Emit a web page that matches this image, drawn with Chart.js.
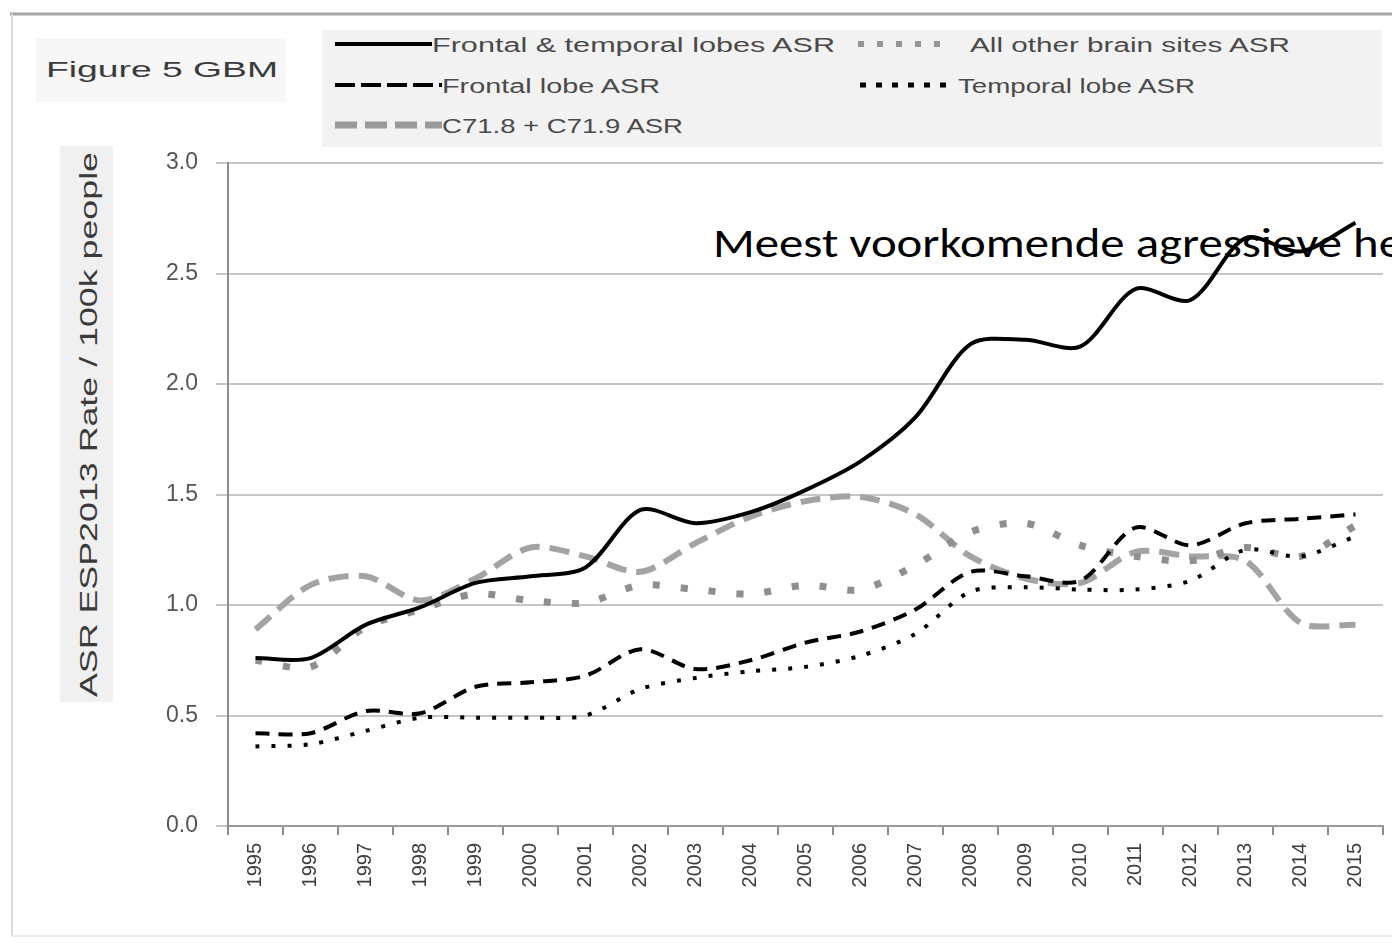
<!DOCTYPE html>
<html>
<head>
<meta charset="utf-8">
<script src="https://cdn.jsdelivr.net/npm/chart.js@4.4.1/dist/chart.umd.min.js"></script>
<style>
  html, body { margin: 0; padding: 0; background: #fff; }
  #wrap { position: relative; width: 1392px; height: 943px; overflow: hidden; }
  #chart { position: absolute; left: 0; top: 0; }
  #deco { position: absolute; left: 0; top: 0; pointer-events: none; }
</style>
</head>
<body>
<div id="wrap">
  <svg id="deco" width="1392" height="943" xmlns="http://www.w3.org/2000/svg">
    <!-- outer frame -->
    <line x1="10" y1="14" x2="1392" y2="14" stroke="#a6a6a6" stroke-width="3"/>
    <line x1="12" y1="14" x2="12" y2="936" stroke="#dcdcdc" stroke-width="2"/>
    <line x1="12" y1="936" x2="1392" y2="936" stroke="#ececec" stroke-width="2"/>
    <!-- title -->
    <rect x="36" y="38" width="250" height="64" fill="#f7f7f7"/>
    <text x="46" y="77" font-family="Liberation Sans, Arial" font-size="22" fill="#3a3a3a" textLength="232" lengthAdjust="spacingAndGlyphs">Figure 5  GBM</text>
    <!-- legend -->
    <rect x="322" y="30" width="1060" height="117" fill="#f2f2f2"/>
    <line x1="335" y1="44" x2="432" y2="44" stroke="#000" stroke-width="4"/>
    <text x="432" y="52" font-family="Liberation Sans, Arial" font-size="20" fill="#4a4a4a" textLength="403" lengthAdjust="spacingAndGlyphs">Frontal &amp; temporal lobes ASR</text>
    <line x1="858" y1="44" x2="950" y2="44" stroke="#959595" stroke-width="6" stroke-dasharray="6 13"/>
    <text x="970" y="52" font-family="Liberation Sans, Arial" font-size="20" fill="#4a4a4a" textLength="320" lengthAdjust="spacingAndGlyphs">All other brain sites ASR</text>
    <line x1="335" y1="85" x2="442" y2="85" stroke="#000" stroke-width="4" stroke-dasharray="20 6"/>
    <text x="442" y="93" font-family="Liberation Sans, Arial" font-size="20" fill="#4a4a4a" textLength="218" lengthAdjust="spacingAndGlyphs">Frontal lobe ASR</text>
    <line x1="860" y1="85" x2="956" y2="85" stroke="#000" stroke-width="5" stroke-dasharray="6 10"/>
    <text x="958" y="93" font-family="Liberation Sans, Arial" font-size="20" fill="#4a4a4a" textLength="237" lengthAdjust="spacingAndGlyphs">Temporal lobe ASR</text>
    <line x1="335" y1="125" x2="442" y2="125" stroke="#9a9a9a" stroke-width="7" stroke-dasharray="22 8"/>
    <text x="442" y="133" font-family="Liberation Sans, Arial" font-size="20" fill="#4a4a4a" textLength="241" lengthAdjust="spacingAndGlyphs">C71.8 + C71.9 ASR</text>
    <!-- y axis title -->
    <rect x="60" y="146" width="53" height="556" fill="#f0f0f0"/>
    <text transform="translate(97,697) rotate(-90)" font-family="Liberation Sans, Arial" font-size="23" fill="#3a3a3a" textLength="545" lengthAdjust="spacingAndGlyphs">ASR  ESP2013  Rate / 100k  people</text>
    <!-- overlay note -->
    <text x="713" y="257" font-family="Carlito, Open Sans, Liberation Sans" font-size="42" fill="#000" textLength="690" lengthAdjust="spacingAndGlyphs">Meest voorkomende agressieve he</text>
  </svg>
  <canvas id="chart" width="1392" height="943"></canvas>
</div>
<script>
// years on the x axis
var years = ["1995","1996","1997","1998","1999","2000","2001","2002","2003","2004","2005",
             "2006","2007","2008","2009","2010","2011","2012","2013","2014","2015"];

// age standardised rates
var frontalTemporal = [0.76, 0.76, 0.91, 0.99, 1.10, 1.13, 1.17, 1.43, 1.37, 1.42, 1.52,
                       1.65, 1.85, 2.18, 2.20, 2.17, 2.43, 2.38, 2.66, 2.60, 2.73];
var frontal = [0.42, 0.42, 0.52, 0.51, 0.63, 0.65, 0.68, 0.80, 0.71, 0.75, 0.83,
               0.88, 0.98, 1.15, 1.13, 1.11, 1.35, 1.27, 1.37, 1.39, 1.41];
var temporal = [0.36, 0.37, 0.43, 0.49, 0.49, 0.49, 0.50, 0.62, 0.67, 0.70, 0.72,
                0.77, 0.87, 1.06, 1.08, 1.07, 1.07, 1.11, 1.25, 1.22, 1.31];
var otherSites = [0.75, 0.72, 0.90, 0.98, 1.05, 1.02, 1.01, 1.09, 1.07, 1.05, 1.09,
                  1.07, 1.18, 1.33, 1.37, 1.27, 1.22, 1.20, 1.26, 1.22, 1.36];
var c71 = [0.89, 1.09, 1.13, 1.02, 1.12, 1.26, 1.22, 1.15, 1.28, 1.40, 1.47,
           1.49, 1.41, 1.22, 1.12, 1.10, 1.24, 1.22, 1.20, 0.92, 0.91];

var yTicks = [0, 0.5, 1, 1.5, 2, 2.5, 3];

var ctx = document.getElementById('chart').getContext('2d');
var chart = new Chart(ctx, {
    type: 'line',
    data: {
        labels: years,
        datasets: [
            { label: 'Frontal & temporal lobes ASR', data: frontalTemporal, borderColor: '#000',
              borderWidth: 4, order: 1 },
            { label: 'Frontal lobe ASR', data: frontal, borderColor: '#000',
              borderWidth: 4, borderDash: [14, 9], order: 2 },
            { label: 'Temporal lobe ASR', data: temporal, borderColor: '#000',
              borderWidth: 4, borderDash: [4, 12], order: 3 },
            { label: 'All other brain sites ASR', data: otherSites, borderColor: '#8f8f8f',
              borderWidth: 7, borderDash: [7, 21], order: 4 },
            { label: 'C71.8 + C71.9 ASR', data: c71, borderColor: '#a3a3a3',
              borderWidth: 6, borderDash: [20, 10], order: 5 }
        ]
    },
    options: {
        responsive: false,
        animation: false,
        layout: { padding: { top: 163, right: 9, bottom: 0, left: 130 } },
        elements: {
            point: { radius: 0 },
            line: { tension: 0.3, fill: false }
        },
        plugins: {
            legend: { display: false },
            tooltip: { enabled: false }
        },
        scales: {
            x: {
                offset: true,
                afterFit: function(scale) { scale.height = 117; },
                grid: { offset: true, drawOnChartArea: false, tickLength: 9, color: '#8c8c8c', lineWidth: 2 },
                border: { color: '#9a9a9a', width: 2 },
                ticks: {
                    minRotation: 90, maxRotation: 90, autoSkip: false, padding: 8,
                    color: '#3c3c3c', font: { family: 'Liberation Sans', size: 20 }
                }
            },
            y: {
                min: 0, max: 3,
                afterFit: function(scale) { scale.width = 98; },
                afterBuildTicks: function(scale) {
                    scale.ticks = yTicks.map(function(v) { return { value: v }; });
                },
                grid: { color: '#c6c6c6', lineWidth: 2, tickLength: 12 },
                border: { color: '#8c8c8c', width: 2 },
                ticks: {
                    padding: 18, color: '#555',
                    font: { family: 'Liberation Sans', size: 23 },
                    callback: function(v) { return Number(v).toFixed(1); }
                }
            }
        }
    }
});
</script>
</body>
</html>
